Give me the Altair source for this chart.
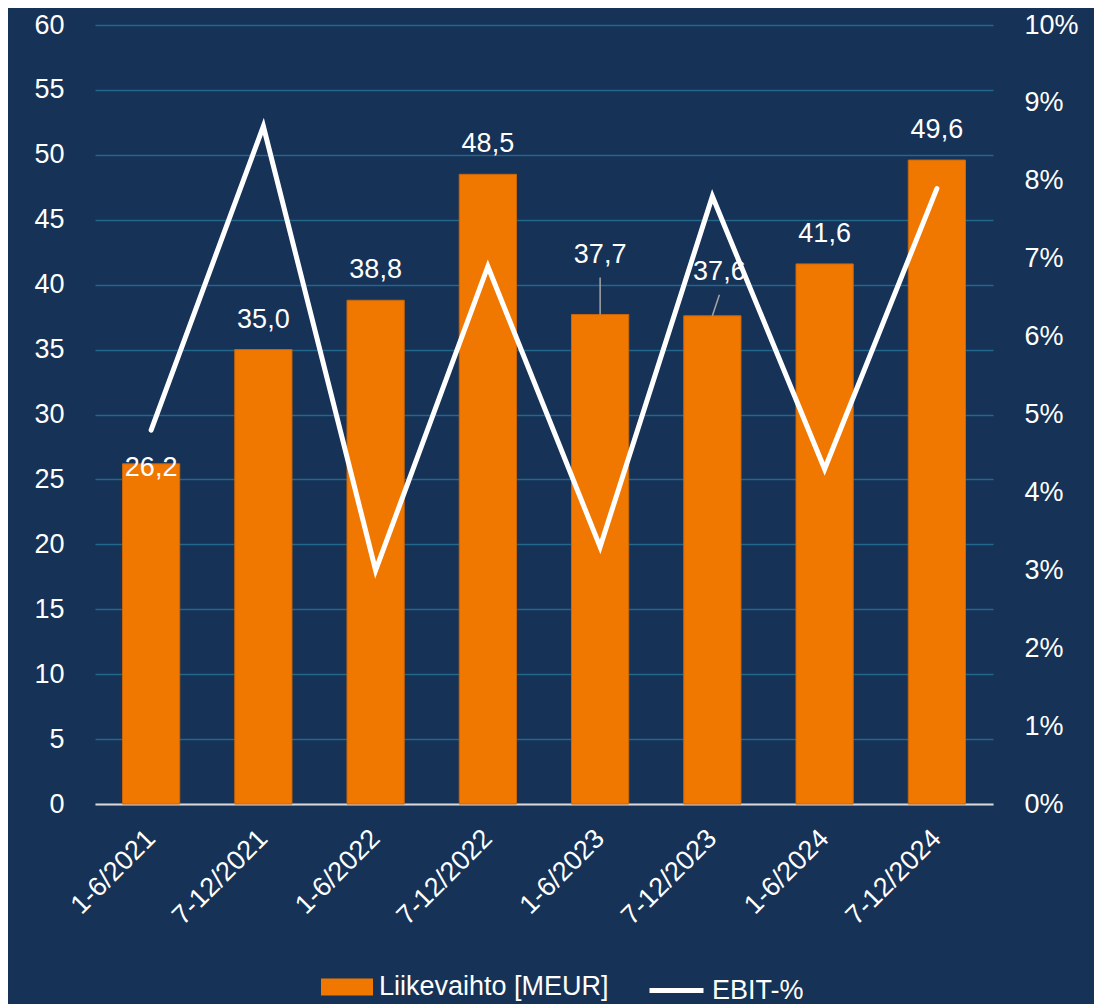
import altair as alt
import pandas as pd

periods = ["1-6/2021", "7-12/2021", "1-6/2022", "7-12/2022",
           "1-6/2023", "7-12/2023", "1-6/2024", "7-12/2024"]
revenue = [26.2, 35.0, 38.8, 48.5, 37.7, 37.6, 41.6, 49.6]
ebit_pct = [4.8, 8.7, 3.0, 6.9, 3.3, 7.8, 4.3, 7.9]
left_ticks = list(range(0, 61, 5))
right_ticks = list(range(0, 11))

df = pd.DataFrame({
    "period": periods,
    "revenue": revenue,
    "ebit": ebit_pct,
    "s1": ["Liikevaihto [MEUR]"] * len(periods),
    "s2": ["EBIT-%"] * len(periods),
})

NAVY = "#163256"
ORANGE = "#F07800"
GRID = "#22688d"
FONT = "Liberation Sans"
FS = 27

x_enc = alt.X(
    "period:N", sort=periods,
    scale=alt.Scale(paddingInner=0.49, paddingOuter=0.245),
    axis=alt.Axis(title=None, labelAngle=-45, labelAlign="right", labelBaseline="middle",
                  labelPadding=30, ticks=False, domainColor="#d9d9d9", domainWidth=2,
                  labelColor="white", labelFontSize=FS, labelFont=FONT, grid=False),
)

y_left = alt.Y(
    "revenue:Q",
    scale=alt.Scale(domain=[0, 60], nice=False),
    axis=alt.Axis(title=None, values=left_ticks, grid=True, gridColor=GRID, gridWidth=1.5,
                  domain=False, ticks=False, labelPadding=31, labelColor="white",
                  labelFontSize=FS, labelFont=FONT),
)

base = alt.Chart(df).transform_calculate(
    lbl="replace(format(datum.revenue, '.1f'), '.', ',')"
)

bars = base.mark_bar(stroke="#c8660a", strokeWidth=1).encode(
    x=x_enc,
    y=y_left,
    color=alt.Color(
        "s1:N", scale=alt.Scale(range=[ORANGE]),
        legend=alt.Legend(title=None, orient="none", legendX=226, legendY=936,
                          symbolType="M-1,-0.33H1V0.33H-1Z", symbolSize=2704,
                          symbolStrokeWidth=0, labelColor="white", labelFontSize=FS,
                          labelFont=FONT, labelOffset=6, labelLimit=400),
    ),
)

txt_kw = dict(color="white", fontSize=FS, font=FONT, baseline="middle", align="center")

texts_main = base.transform_filter(
    "datum.period != '1-6/2021' && datum.period != '1-6/2023' && datum.period != '7-12/2023'"
).mark_text(dy=-30, **txt_kw).encode(x=x_enc, y=y_left, text="lbl:N")

text_a = base.transform_filter("datum.period == '1-6/2021'").mark_text(dy=4, **txt_kw).encode(
    x=x_enc, y=y_left, text="lbl:N")
text_b = base.transform_filter("datum.period == '1-6/2023'").mark_text(dy=-60, **txt_kw).encode(
    x=x_enc, y=y_left, text="lbl:N")
text_c = base.transform_filter("datum.period == '7-12/2023'").mark_text(dy=-44, dx=7, **txt_kw).encode(
    x=x_enc, y=y_left, text="lbl:N")

rule_b = base.transform_filter("datum.period == '1-6/2023'").mark_rule(
    color="#a6a6a6", strokeWidth=1.5, y2Offset=-37).encode(
    x=x_enc, y=y_left, y2=alt.Y2("revenue:Q"))
rule_c = base.transform_filter("datum.period == '7-12/2023'").mark_rule(
    color="#a6a6a6", strokeWidth=1.5, y2Offset=-21, x2Offset=7).encode(
    x=x_enc, x2=alt.X2("period:N"), y=y_left, y2=alt.Y2("revenue:Q"))

left = alt.layer(bars, rule_b, rule_c, texts_main, text_a, text_b, text_c)

line = base.mark_line(strokeWidth=5, strokeCap="round").encode(
    x=x_enc,
    y=alt.Y("ebit:Q", scale=alt.Scale(domain=[0, 10], nice=False),
            axis=alt.Axis(title=None, orient="right", values=right_ticks, grid=False,
                          domain=False, ticks=False, labelPadding=31, labelColor="white",
                          labelFontSize=FS, labelFont=FONT, labelExpr="datum.value + '%'")),
    color=alt.Color(
        "s2:N", scale=alt.Scale(range=["white"]),
        legend=alt.Legend(title=None, orient="none", legendX=552, legendY=936,
                          symbolType="stroke", symbolSize=2916, symbolStrokeWidth=5,
                          labelColor="white", labelFontSize=FS, labelFont=FONT,
                          labelOffset=6, labelLimit=400),
    ),
)

chart = alt.layer(left, line).resolve_scale(
    y="independent", color="independent"
).properties(
    width=898, height=779,
    background=NAVY,
    padding={"left": 25, "top": 3, "right": 15, "bottom": 2},
).configure_view(stroke=None)

chart.save("out.html", embed_options={"renderer": "svg", "actions": False})
